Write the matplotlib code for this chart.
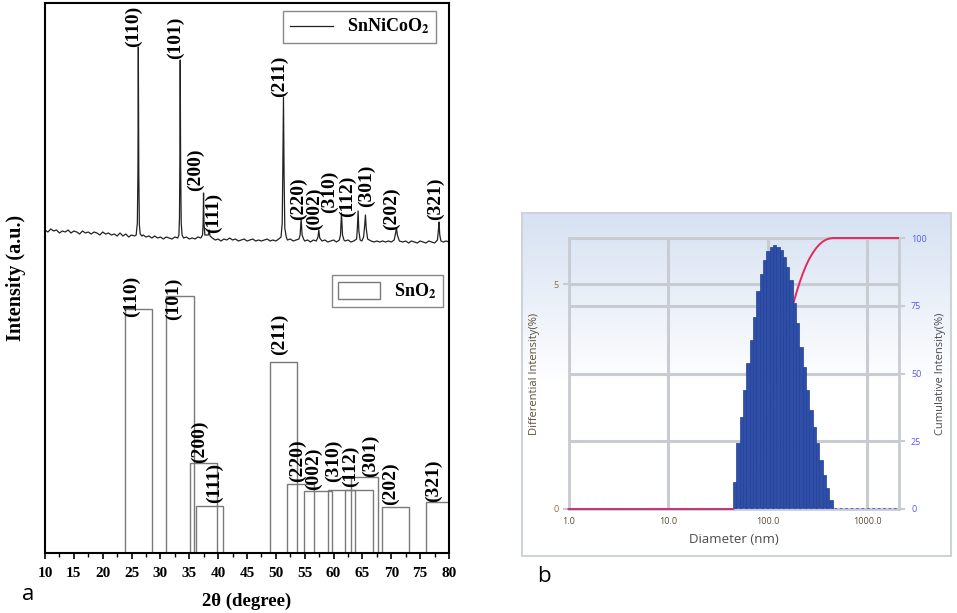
import numpy as np
import matplotlib
matplotlib.use('Agg')
import matplotlib.pyplot as plt
from matplotlib.lines import Line2D
from matplotlib.patches import Patch
from matplotlib.colors import LinearSegmentedColormap
from matplotlib.ticker import NullLocator
from matplotlib.transforms import blended_transform_factory

plt.rcParams['font.family'] = ['Liberation Serif', 'DejaVu Serif']
plt.rcParams['mathtext.fontset'] = 'stix'

# ---- panel a : XRD pattern of SnNiCoO2 (offset trace, a.u.)
xrd_tt = [10.0, 10.5, 11.0, 11.5, 12.0, 12.5, 13.0, 13.5, 14.0, 14.5, 15.0, 15.5, 16.0, 16.5,
          17.0, 17.5, 18.0, 18.5, 19.0, 19.5, 20.0, 20.5, 21.0, 21.5, 22.0, 22.5, 23.0, 23.5,
          24.0, 24.5, 25.0, 25.5, 25.8, 26.0, 26.1, 26.17, 26.25, 26.35, 26.5, 26.8,
          27.0, 27.5, 28.0, 28.5, 29.0, 29.5, 30.0, 30.5, 31.0, 31.5, 32.0, 32.5, 33.0, 33.2,
          33.3, 33.38, 33.43, 33.5, 33.6, 33.75, 34.0, 34.5, 35.0, 35.5, 36.0, 36.5, 37.0, 37.3,
          37.4, 37.47, 37.55, 37.7, 38.3, 38.45, 38.6, 39.0, 39.5, 40.0, 40.5, 41.0, 41.5, 42.0,
          42.5, 43.0, 43.5, 44.0, 44.5, 45.0, 45.5, 46.0, 46.5, 47.0, 47.5, 48.0, 48.5, 49.0,
          49.5, 50.0, 50.5, 50.9, 51.1, 51.2, 51.32, 51.42, 51.55, 51.8, 52.0, 52.5, 53.0, 53.5,
          54.0, 54.2, 54.38, 54.55, 54.8, 55.0, 55.5, 56.0, 56.5, 57.0, 57.3, 57.44, 57.6, 58.0,
          58.5, 59.0, 59.5, 60.0, 60.5, 61.0, 61.2, 61.37, 61.55, 61.8, 62.0, 62.5, 63.0, 63.5,
          64.0, 64.12, 64.25, 64.38, 64.6, 64.9, 65.2, 65.4, 65.52, 65.65, 65.9, 66.5, 67.0,
          67.5, 68.0, 68.5, 69.0, 69.5, 70.0, 70.5, 70.75, 70.89, 71.05, 71.4, 72.0, 72.5, 73.0,
          73.5, 74.0, 74.5, 75.0, 75.5, 76.0, 76.5, 77.0, 77.5, 78.0, 78.15, 78.27, 78.4, 78.6,
          79.0, 79.5, 80.0]
xrd_int = [323, 321, 324, 322, 323, 320, 322, 321, 323, 320, 322, 321, 319, 322,
           320, 321, 319, 321, 320, 318, 321, 319, 320, 318, 319, 317, 320, 317,
           319, 316, 318, 317, 318, 330, 380, 506, 380, 328, 319, 317,
           318, 316, 317, 315, 317, 315, 316, 314, 316, 315, 314, 316, 315, 318,
           335, 400, 493, 390, 330, 318, 315, 316, 314, 315, 314, 316, 315, 318,
           330, 360, 330, 318, 318, 323, 317, 315, 313, 314, 312, 314, 313, 315,
           313, 314, 312, 313, 314, 312, 313, 314, 312, 313, 312, 313, 314, 312,
           313, 312, 314, 316, 330, 380, 456, 380, 325, 316, 313, 314, 312, 313,
           314, 318, 334, 318, 314, 312, 313, 311, 313, 312, 316, 323, 315, 312,
           313, 311, 312, 313, 311, 313, 318, 340, 318, 313, 312, 313, 311, 312,
           314, 325, 342, 322, 313, 312, 316, 328, 338, 325, 314, 312, 311,
           312, 311, 312, 311, 312, 311, 313, 320, 325, 318, 312, 311, 312, 310,
           312, 311, 310, 312, 311, 310, 312, 311, 310, 313, 322, 331, 318, 312,
           311, 312, 311]

hkl = ['(110)', '(101)', '(200)', '(111)', '(211)', '(220)', '(002)', '(310)',
       '(112)', '(301)', '(202)', '(321)']

# SnO2 reference pattern (drawn as open bars)
sno2_tt = [26.2, 33.4, 37.5, 38.5, 51.3, 54.3, 57.3, 61.4, 64.4, 65.4, 70.8, 78.3]
sno2_int = [244, 257, 90, 47, 191, 69, 62, 63, 63, 76, 46, 51]

# label placement (layout only)
top_lbl_x = [25.25, 32.55, 36.0, 39.15, 50.7, 53.9, 56.65, 59.3, 62.4, 65.75, 70.1, 77.6]
top_lbl_y = [506, 494, 362, 320, 456, 333, 323, 340, 336, 346, 323, 333]
bot_lbl_x = [25.0, 32.25, 36.7, 39.45, 50.6, 53.8, 56.5, 59.95, 62.85, 66.45, 69.8, 77.3]
bot_lbl_y = [236, 233, 90, 50, 198, 71, 63, 71, 66, 76, 48, 51]

# ---- panel b : DLS size distribution
dls_edges = [44.8, 48.3, 52.2, 56.4, 60.9, 65.7, 71.0, 76.6, 82.8, 89.3, 96.4,
             104.2, 112.5, 121.4, 131.1, 141.6, 152.9, 165.1, 178.2, 192.4, 207.8,
             224.4, 242.2, 261.6, 282.5, 305.0, 329.3, 355.6, 384.0, 414.6, 447.7]
dls_diff = [0.61, 1.46, 2.05, 2.65, 3.24, 3.76, 4.28, 4.84, 5.24, 5.54,
            5.73, 5.84, 5.87, 5.84, 5.76, 5.61, 5.39, 5.10, 4.58, 4.13,
            3.61, 3.17, 2.65, 2.20, 1.83, 1.46, 1.09, 0.76, 0.46, 0.20]

fig = plt.figure(figsize=(9.57, 6.13), dpi=100)

ax = fig.add_axes([45/957, 60/613, 404/957, 550/613])
ax.plot(xrd_tt, xrd_int, color='#222222', lw=0.9)
ax.bar(sno2_tt, sno2_int, width=4.7, fill=False, edgecolor='#7a7a7a', lw=1.0)

for t, x, y in zip(hkl, top_lbl_x, top_lbl_y):
    ax.text(x, y, t, rotation=90, ha='center', va='bottom', fontsize=14, fontweight='bold')
for t, x, y in zip(hkl, bot_lbl_x, bot_lbl_y):
    ax.text(x, y, t, rotation=90, ha='center', va='bottom', fontsize=14, fontweight='bold')

ax.set_xlim(10, 80)
ax.set_ylim(0, 550)
ax.set_yticks([])
ax.set_xticks(np.arange(10, 81, 5))
ax.set_xticks(np.arange(10, 80.1, 2.5), minor=True)
ax.tick_params(axis='x', which='major', direction='out', length=4, width=1.2, pad=6, labelsize=11)
ax.tick_params(axis='x', which='minor', direction='out', length=3, width=1.0)
for lbl in ax.get_xticklabels():
    lbl.set_fontweight('bold')
for s in ax.spines.values():
    s.set_linewidth(1.5)
ax.set_xlabel('2θ (degree)', fontsize=13.5, fontweight='bold', labelpad=9)
ax.set_ylabel('Intensity (a.u.)', fontsize=14.5, fontweight='bold', labelpad=14)

leg1 = ax.legend([Line2D([], [], color='#222222', lw=0.9)], [r'SnNiCoO$_\mathbf{2}$'],
                 loc='upper right', bbox_to_anchor=(0.968, 0.986), fancybox=False,
                 edgecolor='#888888', framealpha=1, borderaxespad=0, borderpad=0.35,
                 handlelength=2.4, prop={'weight': 'bold', 'size': 13})
leg1.get_frame().set_linewidth(1)
ax.add_artist(leg1)
leg2 = ax.legend([Patch(facecolor='none', edgecolor='#7a7a7a')], [r'SnO$_\mathbf{2}$'],
                 loc='upper right', bbox_to_anchor=(0.985, 0.505), fancybox=False,
                 edgecolor='#888888', framealpha=1, borderaxespad=0, borderpad=0.35,
                 handlelength=2.3, handleheight=1.1, prop={'weight': 'bold', 'size': 13})
leg2.get_frame().set_linewidth(1)

fig.text(28/957, 1 - 594/613, 'a', fontsize=16, family='Open Sans', ha='center', va='center')
fig.text(544/957, 1 - 576/613, 'b', fontsize=16, family='Open Sans', ha='center', va='center')

# ---- panel b
frame = fig.add_axes([522/957, 57/613, 429/957, 343/613])
bg = LinearSegmentedColormap.from_list('bg', [(0, 'white'), (0.5, 'white'), (1, '#d6e1f2')])
frame.imshow(np.linspace(1, 0, 256).reshape(-1, 1), cmap=bg, aspect='auto', extent=[0, 1, 0, 1])
frame.set_xticks([])
frame.set_yticks([])
for s in frame.spines.values():
    s.set_color('#cfd2d6')
    s.set_linewidth(1.5)

gcol = '#c8ccd2'
sans = ['Open Sans', 'DejaVu Sans']
ax_b = fig.add_axes([568.5/957, 104/613, 330/957, 271/613])
ax_b.patch.set_visible(False)
ax_r = ax_b.twinx()   # right-hand scale: ticks and label only

ax_b.set_xscale('log')
ax_b.set_xlim(1, 2050)
ax_b.set_ylim(0, 6.03)
ax_r.set_ylim(0, 100)
right_ticks = [0, 25, 50, 75, 100]
ax_r.set_yticks(right_ticks)

# everything drawn inside ax_b so the bars hide the cumulative curve
cum_tr = blended_transform_factory(ax_b.transData, ax_r.transData)
row_tr = blended_transform_factory(ax_b.transAxes, ax_r.transData)
for v in right_ticks:
    ax_b.plot([0, 1], [v, v], transform=row_tr, color=gcol, lw=2.2, zorder=0.5)
ax_b.set_axisbelow(True)
ax_b.grid(True, color=gcol, lw=2.2)

cum = np.cumsum(dls_diff) / np.sum(dls_diff) * 100
x0, x1 = ax_b.get_xlim()
cum_x = np.concatenate([[x0], dls_edges, [x1]])
cum_y = np.concatenate([[0, 0], cum, [100]])
ax_b.plot(cum_x, cum_y, transform=cum_tr, color='#e4295c', lw=1.4, zorder=2.7, clip_on=False)

ax_b.bar(dls_edges[:-1], dls_diff, width=np.diff(dls_edges), align='edge',
         color='#2e4fa8', edgecolor='#243f94', lw=0.5, zorder=3)
ax_b.axhline(0, color='#4f5fe0', ls=(0, (1.5, 1.5)), lw=1.3, zorder=3.5)

ax_b.set_xticks([1, 10, 100, 1000], ['1.0', '10.0', '100.0', '1000.0'])
ax_b.xaxis.set_minor_locator(NullLocator())
ax_b.set_yticks([0, 5])

ax_b.tick_params(axis='x', length=0, pad=6, labelsize=6.5, labelcolor='#5b4a35')
ax_b.tick_params(axis='y', length=4, color=gcol, width=1.5, pad=3, labelsize=6.5, labelcolor='#8b6a3e')
ax_r.tick_params(axis='y', length=4, color=gcol, width=1.5, pad=5, labelsize=6.5, labelcolor='#5a5af0')
for lbl in ax_b.get_xticklabels() + ax_b.get_yticklabels() + ax_r.get_yticklabels():
    lbl.set_family(sans)
for s in ax_b.spines.values():
    s.set_color(gcol)
    s.set_linewidth(2)
for s in ax_r.spines.values():
    s.set_visible(False)

ax_b.set_xlabel('Diameter (nm)', fontsize=9.5, color='#4a4a4a', family=sans, labelpad=5)
ax_b.set_ylabel('Differential Intensity(%)', fontsize=8, color='#5e4e3a', family=sans)
ax_b.yaxis.set_label_coords(-0.086, 0.5)
ax_r.set_ylabel('Cumulative Intensity(%)', fontsize=8, color='#4a4a55', family=sans, rotation=90)
ax_r.yaxis.set_label_coords(1.111, 0.5)

fig.savefig('out.png', dpi=100)
